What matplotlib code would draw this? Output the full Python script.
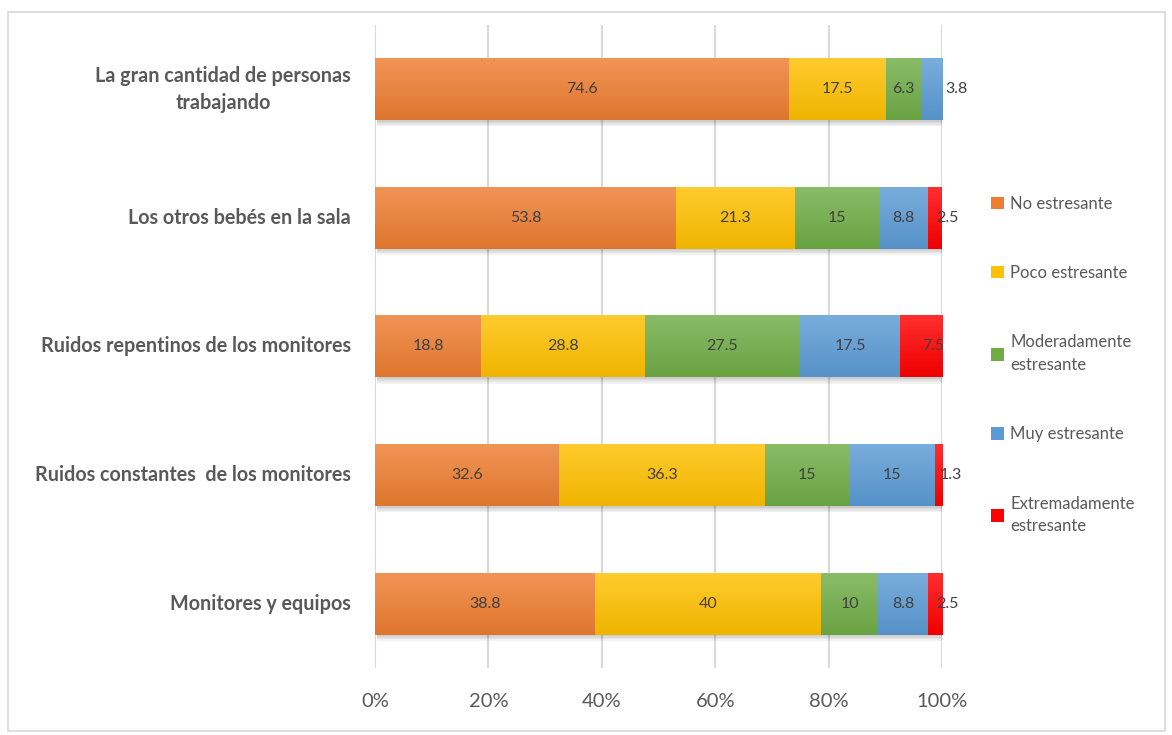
import matplotlib
matplotlib.use("Agg")
import matplotlib.pyplot as plt
import numpy as np
from matplotlib.patches import Rectangle
from matplotlib.colors import to_rgb

categories = ["La gran cantidad de personas\ntrabajando",
              "Los otros bebés en la sala",
              "Ruidos repentinos de los monitores",
              "Ruidos constantes  de los monitores",
              "Monitores y equipos"]
series_names = ["No estresante", "Poco estresante", "Moderadamente\nestresante",
                "Muy estresante", "Extremadamente\nestresante"]
no_estresante = [74.6, 53.8, 18.8, 32.6, 38.8]
poco = [17.5, 21.3, 28.8, 36.3, 40]
moderado = [6.3, 15, 27.5, 15, 10]
muy = [3.8, 8.8, 17.5, 15, 8.8]
extremo = [0, 2.5, 7.5, 1.3, 2.5]
series = [no_estresante, poco, moderado, muy, extremo]
colors = ["#ED7D31", "#FFC000", "#70AD47", "#5B9BD5", "#FF0000"]

plt.rcParams['font.family'] = ['Lato', 'DejaVu Sans']

fig = plt.figure(figsize=(11.72, 7.35), dpi=100)
fig.patches.append(Rectangle((8/1172, 1-731/735), 1157/1172, 719/735, transform=fig.transFigure,
                             fill=False, edgecolor="#D9D9D9", linewidth=1.2))
ax = fig.add_axes([375/1172, 1-668/735, 567/1172, 643/735])

data = np.array(series, dtype=float)
totals = data.sum(axis=0)
pct = data / totals * 100
y = np.arange(len(categories))
left = np.zeros(len(categories))
bh = 0.48

def lighten(c, f):
    r = np.array(to_rgb(c))
    return r + (1 - r) * f

def darken(c, f):
    return np.array(to_rgb(c)) * (1 - f)

nseries = len(series)
for si, (vals, p, col) in enumerate(zip(series, pct, colors)):
    bars = ax.barh(y, p, left=left, height=bh, color=col, zorder=3, label=series_names[si])
    for ri, (b, v, pv, l) in enumerate(zip(bars, vals, p, left)):
        if v == 0:
            continue
        x0, y0, w, h = b.get_x(), b.get_y(), b.get_width(), b.get_height()
        top = lighten(col, 0.18)
        bot = darken(col, 0.06)
        grad = np.linspace(0, 1, 64)[:, None, None]
        img = top[None, None, :] * (1 - grad) + bot[None, None, :] * grad
        ax.imshow(img, extent=(x0, x0 + w, y0 + h, y0), aspect='auto', zorder=3.5,
                  interpolation='bilinear')
        is_last = all(series[k][ri] == 0 for k in range(si + 1, nseries))
        xt = l + pv / 2
        if is_last:
            xt += 2.2 if si == nseries - 1 else 4.4
        ax.text(xt, y0 + h / 2, f"{v:g}", ha='center', va='center', fontsize=11.5,
                color="#404040", zorder=5)
    left = left + p

for yi in y:
    for k in range(4):
        ax.add_patch(Rectangle((0.3, yi + bh/2), 100, 0.012 * (k + 1), facecolor='#000000',
                               alpha=0.05, zorder=2.9, linewidth=0))

ax.set_xlim(0, 100)
ax.set_ylim(len(categories) - 0.5, -0.5)
ax.set_xticks([0, 20, 40, 60, 80, 100])
ax.set_xticklabels(["0%", "20%", "40%", "60%", "80%", "100%"], fontsize=14.5, color="#595959")
ax.set_yticks(y)
ax.set_yticklabels([])
for yi, c in zip(y, categories):
    ax.text(-0.042, yi, c, transform=ax.get_yaxis_transform(), ha='right', va='center',
            multialignment='center', fontsize=14.2, fontweight='bold', color="#595959",
            linespacing=1.45)
ax.tick_params(axis='both', length=0)
ax.tick_params(axis='x', pad=18)
ax.grid(axis='x', color="#D9D9D9", linewidth=1.5, zorder=0)
ax.set_axisbelow(True)
for s in ax.spines.values():
    s.set_visible(False)

handles, labels = ax.get_legend_handles_labels()
fig.legend(handles, labels, loc='center left', bbox_to_anchor=(976/1172, 1-365/735),
           frameon=False, labelcolor="#595959", labelspacing=3.2,
           handlelength=0.75, handleheight=0.75, handletextpad=0.4,
           prop={'size': 12})
for t in fig.legends[0].get_texts():
    t.set_linespacing(1.5)
plt.savefig("out.png", dpi=100)
